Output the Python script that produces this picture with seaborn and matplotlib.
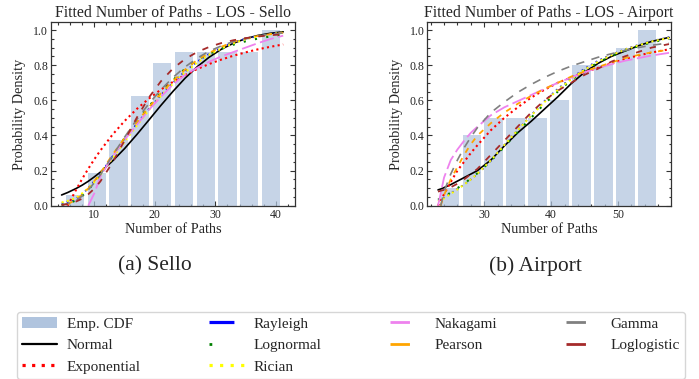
import numpy as np
import pandas as pd
import matplotlib
matplotlib.use("Agg")
import matplotlib.pyplot as plt
import seaborn as sns
from matplotlib.lines import Line2D
from matplotlib.patches import Patch
from matplotlib.ticker import MultipleLocator, FormatStrFormatter

nan = np.nan

# ---------------- data ----------------
labels = ["Emp. CDF", "Normal", "Exponential", "Rayleigh", "Lognormal",
          "Rician", "Nakagami", "Pearson", "Gamma", "Loglogistic"]

# Sello: empirical CDF bars
sello_bin_centers = [6.8, 10.4, 14.0, 17.6, 21.2, 24.8, 28.4, 32.0, 35.6, 39.2]
sello_ecdf = [0.0625, 0.1875, 0.375, 0.625, 0.8125, 0.875, 0.875, 0.875, 0.875, 1.0]

# Sello: fitted CDF curves
sello_x = [4.6, 5.6, 7, 8, 9, 10, 11, 13, 15, 17, 19, 21, 23, 25, 27, 29, 31, 33, 35, 37, 39, 41.2]
sello_normal = [0.061, 0.075, 0.098, 0.117, 0.139, 0.164, 0.191, 0.254, 0.325, 0.404, 0.487,
                0.571, 0.651, 0.726, 0.791, 0.846, 0.891, 0.925, 0.951, 0.969, 0.981, 0.99]
sello_exponential = [nan, 0.0, 0.091, 0.153, 0.21, 0.264, 0.314, 0.404, 0.482, 0.55, 0.609,
                     0.661, 0.705, 0.744, 0.778, 0.807, 0.832, 0.854, 0.873, 0.89, 0.904, 0.918]
sello_rayleigh = [0.012, 0.022, 0.04, 0.065, 0.10, 0.14, 0.18, 0.28, 0.375, 0.465, 0.55,
                  0.63, 0.70, 0.765, 0.82, 0.865, 0.90, 0.93, 0.95, 0.965, 0.977, 0.986]
sello_lognormal = [0.004, 0.012, 0.03, 0.055, 0.09, 0.13, 0.175, 0.28, 0.385, 0.48, 0.565,
                   0.645, 0.715, 0.78, 0.83, 0.865, 0.893, 0.917, 0.936, 0.951, 0.963, 0.973]
sello_rician = [0.018, 0.027, 0.045, 0.07, 0.10, 0.135, 0.175, 0.27, 0.365, 0.455, 0.545,
                0.625, 0.695, 0.76, 0.815, 0.86, 0.895, 0.925, 0.948, 0.964, 0.976, 0.986]
sello_nakagami = [nan, nan, nan, nan, 0.0, 0.07, 0.165, 0.28, 0.375, 0.46, 0.545,
                  0.62, 0.69, 0.745, 0.785, 0.82, 0.85, 0.875, 0.90, 0.925, 0.948, 0.968]
sello_pearson = [nan, 0.008, 0.035, 0.062, 0.098, 0.14, 0.185, 0.29, 0.385, 0.475, 0.56,
                 0.64, 0.71, 0.775, 0.83, 0.87, 0.905, 0.932, 0.952, 0.966, 0.976, 0.984]
sello_gamma = [0.004, 0.012, 0.03, 0.055, 0.09, 0.13, 0.175, 0.285, 0.39, 0.49, 0.58,
               0.66, 0.73, 0.79, 0.84, 0.88, 0.91, 0.935, 0.953, 0.966, 0.976, 0.983]
sello_loglogistic = [0.004, 0.009, 0.024, 0.040, 0.065, 0.097, 0.138, 0.245, 0.371, 0.5, 0.615,
                     0.708, 0.781, 0.835, 0.875, 0.904, 0.926, 0.942, 0.954, 0.963, 0.970, 0.976]

# Airport: empirical CDF bars
airport_bin_centers = [24.9, 28.17, 31.44, 34.71, 37.98, 41.25, 44.52, 47.79, 51.06, 54.33]
airport_ecdf = [0.1, 0.4, 0.5, 0.5, 0.5, 0.6, 0.8, 0.8, 0.9, 1.0]

# Airport: fitted CDF curves
airport_x = [23.1, 23.5, 24, 25, 26, 27, 28, 29, 31, 33, 35, 37, 39, 41, 43, 45, 47, 49, 51, 53, 55, 57.6]
airport_normal = [0.09, 0.095, 0.103, 0.12, 0.14, 0.16, 0.18, 0.20, 0.26, 0.34, 0.415,
                  0.48, 0.55, 0.62, 0.695, 0.76, 0.81, 0.85, 0.88, 0.91, 0.935, 0.958]
airport_exponential = [0.0, 0.03, 0.065, 0.135, 0.20, 0.25, 0.30, 0.345, 0.43, 0.50, 0.56,
                       0.615, 0.66, 0.70, 0.73, 0.76, 0.785, 0.81, 0.835, 0.855, 0.872, 0.89]
airport_rayleigh = [0.03, 0.035, 0.045, 0.07, 0.095, 0.12, 0.15, 0.18, 0.255, 0.345, 0.43,
                    0.515, 0.595, 0.665, 0.725, 0.78, 0.825, 0.86, 0.89, 0.915, 0.937, 0.958]
airport_lognormal = [0.035, 0.04, 0.05, 0.075, 0.10, 0.125, 0.155, 0.185, 0.255, 0.335, 0.42,
                     0.50, 0.58, 0.65, 0.715, 0.77, 0.815, 0.852, 0.882, 0.908, 0.93, 0.95]
airport_rician = [0.025, 0.032, 0.042, 0.068, 0.093, 0.12, 0.15, 0.182, 0.258, 0.345, 0.43,
                  0.512, 0.59, 0.66, 0.72, 0.775, 0.82, 0.857, 0.888, 0.913, 0.935, 0.955]
airport_nakagami = [0.0, 0.07, 0.16, 0.26, 0.32, 0.37, 0.415, 0.45, 0.515, 0.56, 0.595,
                    0.63, 0.665, 0.70, 0.73, 0.76, 0.785, 0.805, 0.825, 0.84, 0.855, 0.87]
airport_pearson = [nan, 0.0, 0.06, 0.15, 0.22, 0.29, 0.35, 0.40, 0.47, 0.53, 0.58,
                   0.625, 0.665, 0.70, 0.735, 0.765, 0.79, 0.815, 0.84, 0.858, 0.873, 0.888]
airport_gamma = [nan, 0.0, 0.08, 0.18, 0.26, 0.33, 0.39, 0.445, 0.53, 0.59, 0.645,
                 0.69, 0.73, 0.765, 0.795, 0.82, 0.845, 0.865, 0.883, 0.90, 0.913, 0.927]
airport_loglogistic = [0.08, 0.085, 0.09, 0.105, 0.125, 0.15, 0.18, 0.21, 0.29, 0.37, 0.45,
                       0.53, 0.60, 0.655, 0.70, 0.745, 0.78, 0.82, 0.85, 0.875, 0.90, 0.92]

# ---------------- styling ----------------
sns.set_theme(style="ticks")
plt.rcParams["font.family"] = ["Liberation Serif", "DejaVu Serif"]

bar_color = "lightsteelblue"
styles = {
    "Normal":      dict(color="black",   lw=1.2, ls="-"),
    "Exponential": dict(color="red",     lw=1.5, ls=(0, (1, 1.6))),
    "Rayleigh":    dict(color="blue",    lw=1.3, ls=(0, (1, 2.0))),
    "Lognormal":   dict(color="green",   lw=1.5, ls=(0, (1, 4.5))),
    "Rician":      dict(color="yellow",  lw=1.5, ls=(0, (1, 1.6))),
    "Nakagami":    dict(color="violet",  lw=1.3, ls=(0, (8, 2.5))),
    "Pearson":     dict(color="orange",  lw=1.3, ls=(0, (3, 3.5))),
    "Gamma":       dict(color="gray",    lw=1.2, ls=(0, (5, 4.5))),
    "Loglogistic": dict(color="brown",   lw=1.3, ls=(0, (3.5, 4.5))),
}

fig = plt.figure(figsize=(6.99, 3.79), dpi=100)
W, H = 699.0, 379.0
ax1 = fig.add_axes([50.7 / W, 1 - 205.7 / H, (295.3 - 50.7) / W, (205.7 - 22.3) / H])
ax2 = fig.add_axes([427.3 / W, 1 - 205.7 / H, (671.0 - 427.3) / W, (205.7 - 22.3) / H])


def edges_from_centers(c):
    c = [float(v) for v in c]
    e = [c[0] - (c[1] - c[0]) / 2]
    e += [(a + b) / 2 for a, b in zip(c[:-1], c[1:])]
    e.append(c[-1] + (c[-1] - c[-2]) / 2)
    return e


def draw_panel(ax, centers, ecdf, shrink, x, curves, title, xlim, xmajor):
    bars = pd.DataFrame({"paths": centers, "cdf": ecdf})
    sns.histplot(data=bars, x="paths", weights="cdf", bins=edges_from_centers(centers),
                 shrink=shrink, color=bar_color, alpha=0.72, linewidth=0, ax=ax)
    for name, y in curves:
        st = styles[name]
        sns.lineplot(x=x, y=y, ax=ax, color=st["color"], linewidth=st["lw"],
                     linestyle=st["ls"], estimator=None, sort=True, legend=False)
    ax.set_xlim(*xlim)
    ax.set_ylim(0, 1.044)
    ax.set_title(title, fontsize=11.3, pad=4)
    ax.set_xlabel("Number of Paths", fontsize=10.3)
    ax.set_ylabel("Probability Density", fontsize=10.3)
    ax.xaxis.set_label_coords(0.5, -0.095)
    ax.yaxis.set_label_coords(-0.10, 0.5)
    ax.xaxis.set_major_locator(MultipleLocator(xmajor))
    ax.xaxis.set_minor_locator(MultipleLocator(2))
    ax.yaxis.set_major_locator(MultipleLocator(0.2))
    ax.yaxis.set_minor_locator(MultipleLocator(0.05))
    ax.yaxis.set_major_formatter(FormatStrFormatter("%.1f"))
    ax.tick_params(which="both", direction="in", top=True, right=True,
                   color="#333333", labelsize=8.6, width=0.8)
    ax.tick_params(which="major", length=3.5)
    ax.tick_params(which="minor", length=1.8)
    ax.tick_params(axis="x", pad=2.5)
    ax.tick_params(axis="y", pad=2.0)
    for sp in ax.spines.values():
        sp.set_color("#333333")
        sp.set_linewidth(0.9)


draw_panel(ax1, sello_bin_centers, sello_ecdf, 0.833, sello_x,
           [("Normal", sello_normal), ("Exponential", sello_exponential),
            ("Rayleigh", sello_rayleigh), ("Lognormal", sello_lognormal),
            ("Rician", sello_rician), ("Nakagami", sello_nakagami),
            ("Pearson", sello_pearson), ("Gamma", sello_gamma),
            ("Loglogistic", sello_loglogistic)],
           "Fitted Number of Paths - LOS - Sello", (2.8, 43.2), 10)

draw_panel(ax2, airport_bin_centers, airport_ecdf, 0.856, airport_x,
           [("Normal", airport_normal), ("Exponential", airport_exponential),
            ("Rayleigh", airport_rayleigh), ("Lognormal", airport_lognormal),
            ("Rician", airport_rician), ("Nakagami", airport_nakagami),
            ("Pearson", airport_pearson), ("Gamma", airport_gamma),
            ("Loglogistic", airport_loglogistic)],
           "Fitted Number of Paths - LOS - Airport", (21.5, 57.9), 10)

fig.text(155 / W, 1 - 266 / H, "(a) Sello", fontsize=15.5, ha="center", va="center")
fig.text(535 / W, 1 - 266 / H, "(b) Airport", fontsize=15.5, ha="center", va="center")

# legend (drawn as in the reference: short solid marks, dotted for some)
handles = [
    Patch(facecolor=bar_color, edgecolor="none"),
    Line2D([], [], color="black", lw=1.6),
    Line2D([], [], color="red", lw=2.3, ls=(0, (1, 2.0))),
    Line2D([], [], color="blue", lw=2.3, ls=(0, (7.8, 30))),
    Line2D([], [], color="green", lw=2.0, ls=(0, (1, 30))),
    Line2D([], [], color="yellow", lw=2.3, ls=(0, (1, 2.3))),
    Line2D([], [], color="violet", lw=2.0, ls=(0, (7, 30))),
    Line2D([], [], color="orange", lw=2.0, ls=(0, (7, 30))),
    Line2D([], [], color="gray", lw=2.0, ls=(0, (7, 30))),
    Line2D([], [], color="brown", lw=2.0, ls=(0, (7, 30))),
]
leg = fig.legend(handles, labels, loc="upper left", bbox_to_anchor=(17 / W, 1 - 311.5 / H),
                 ncol=4, fontsize=11, handlelength=2.25, handletextpad=0.65,
                 columnspacing=4.5, borderpad=0.35, labelspacing=0.52,
                 frameon=True, fancybox=True, borderaxespad=0)
leg.get_frame().set_edgecolor("#cccccc")
leg.get_frame().set_linewidth(1.0)

fig.savefig("out.png", dpi=100)
